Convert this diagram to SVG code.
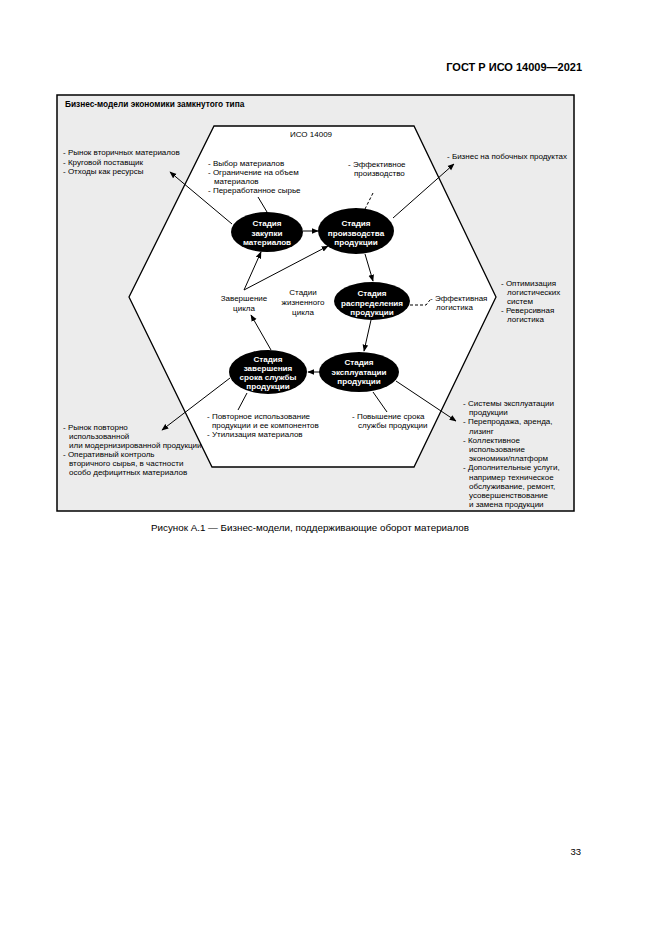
<svg xmlns="http://www.w3.org/2000/svg" width="661" height="935" viewBox="0 0 661 935">
<style>
text{font-family:"Liberation Sans",Arial,sans-serif;fill:#000}
.t{font-size:8px}
.b{font-size:8.3px;font-weight:bold}
.w{font-size:8.1px;font-weight:bold;fill:#fff;text-anchor:middle}
.c{text-anchor:middle}
.ln{stroke:#000;stroke-width:1;fill:none}
.ar{stroke:#000;stroke-width:1;fill:none;marker-end:url(#ah)}
.ds{stroke:#000;stroke-width:1;fill:none;stroke-dasharray:3 2}
.el{fill:#000}
</style>
<defs>
<marker id="ah" viewBox="0 0 10 10" refX="9" refY="5" markerWidth="7" markerHeight="7" orient="auto" markerUnits="userSpaceOnUse">
<path d="M0,1 L10,5 L0,9 Z" fill="#000"/>
</marker>
</defs>
<rect width="661" height="935" fill="#fff"/>
<text x="582" y="71" style="font-size:11px;font-weight:bold;text-anchor:end">ГОСТ Р ИСО 14009—2021</text>

<g id="frame">
<rect x="57" y="95" width="517" height="416" fill="#ececec" stroke="#000" stroke-width="1.5"/>
<text class="b" x="65" y="107">Бизнес-модели экономики замкнутого типа</text>
<polygon points="214,126 414,126 496,297 414,467 212,467 129,297" fill="#fff" stroke="#000" stroke-width="1.3"/>
<text class="t" x="290" y="137">ИСО 14009</text>
</g>

<g id="connectors">
<line class="ar" x1="303" y1="231" x2="318" y2="231"/>
<line class="ar" x1="365" y1="254" x2="373" y2="281"/>
<line class="ar" x1="371" y1="320" x2="364" y2="351"/>
<line class="ar" x1="320" y1="372" x2="308" y2="372"/>
<line class="ar" x1="271" y1="350" x2="251" y2="315"/>
<line class="ar" x1="244" y1="290" x2="261" y2="252"/>
<line class="ar" x1="244" y1="290" x2="328" y2="246"/>
<line class="ar" x1="232" y1="224" x2="170" y2="172"/>
<line class="ar" x1="393" y1="218" x2="454" y2="164"/>
<line class="ar" x1="396" y1="381" x2="456" y2="421"/>
<line class="ar" x1="230" y1="378" x2="162" y2="430"/>
<line class="ln" x1="258" y1="197" x2="267" y2="212"/>
<line class="ds" x1="373" y1="193" x2="364" y2="211"/>
<polyline class="ds" points="410,305 426,305 430,300"/>
<line class="ln" x1="373" y1="392" x2="387" y2="412"/>
<line class="ln" x1="247" y1="393" x2="238" y2="410"/>
</g>

<g id="stage-procurement">
<ellipse class="el" cx="267" cy="232" rx="36" ry="20"/>
<text class="w" x="267" y="226">Стадия</text>
<text class="w" x="267" y="235.5">закупки</text>
<text class="w" x="267" y="245">материалов</text>
</g>
<g id="stage-production">
<ellipse class="el" cx="356" cy="231" rx="38" ry="23"/>
<text class="w" x="356" y="226">Стадия</text>
<text class="w" x="356" y="235.5">производства</text>
<text class="w" x="356" y="245">продукции</text>
</g>
<g id="stage-distribution">
<ellipse class="el" cx="372" cy="301" rx="38" ry="19"/>
<text class="w" x="372" y="296">Стадия</text>
<text class="w" x="372" y="305.5">распределения</text>
<text class="w" x="372" y="315">продукции</text>
</g>
<g id="stage-use">
<ellipse class="el" cx="359" cy="372" rx="40" ry="20"/>
<text class="w" x="359" y="365">Стадия</text>
<text class="w" x="359" y="374.5">эксплуатации</text>
<text class="w" x="359" y="384">продукции</text>
</g>
<g id="stage-end-of-life">
<ellipse class="el" cx="268" cy="372" rx="39" ry="22"/>
<text class="w" x="268" y="362">Стадия</text>
<text class="w" x="268" y="371">завершения</text>
<text class="w" x="268" y="380">срока службы</text>
<text class="w" x="268" y="389">продукции</text>
</g>
<g id="cycle-completion">
<text class="t c" x="244" y="301">Завершение</text>
<text class="t c" x="244" y="311">цикла</text>
</g>
<g id="lifecycle-label">
<text class="t c" x="303" y="295">Стадии</text>
<text class="t c" x="303" y="305">жизненного</text>
<text class="t c" x="303" y="315">цикла</text>
</g>

<g id="note-left-top">
<text class="t" x="63" y="155">- Рынок вторичных материалов</text>
<text class="t" x="63" y="164.5">- Круговой поставщик</text>
<text class="t" x="63" y="174">- Отходы как ресурсы</text>
</g>
<g id="note-procurement">
<text class="t" x="208" y="166">- Выбор материалов</text>
<text class="t" x="208" y="175">- Ограничение на объем</text>
<text class="t" x="214" y="184">материалов</text>
<text class="t" x="208" y="193">- Переработанное сырье</text>
</g>
<g id="note-production">
<text class="t" x="348" y="167">- Эффективное</text>
<text class="t" x="354" y="176">производство</text>
</g>
<g id="note-right-top">
<text class="t" x="447" y="159">- Бизнес на побочных продуктах</text>
</g>
<g id="note-distribution">
<text class="t" x="430" y="301">- Эффективная</text>
<text class="t" x="436" y="310">логистика</text>
</g>
<g id="note-right-mid">
<text class="t" x="501" y="286">- Оптимизация</text>
<text class="t" x="507" y="295">логистических</text>
<text class="t" x="507" y="304">систем</text>
<text class="t" x="501" y="313">- Реверсивная</text>
<text class="t" x="507" y="322">логистика</text>
</g>
<g id="note-use">
<text class="t" x="352" y="419">- Повышение срока</text>
<text class="t" x="358" y="428">службы продукции</text>
</g>
<g id="note-right-bottom">
<text class="t" x="463" y="406">- Системы эксплуатации</text>
<text class="t" x="469" y="415.2">продукции</text>
<text class="t" x="463" y="424.4">- Перепродажа, аренда,</text>
<text class="t" x="469" y="433.6">лизинг</text>
<text class="t" x="463" y="442.8">- Коллективное</text>
<text class="t" x="469" y="452">использование</text>
<text class="t" x="469" y="461.2">экономики/платформ</text>
<text class="t" x="463" y="470.4">- Дополнительные услуги,</text>
<text class="t" x="469" y="479.6">например техническое</text>
<text class="t" x="469" y="488.8">обслуживание, ремонт,</text>
<text class="t" x="469" y="498">усовершенствование</text>
<text class="t" x="469" y="507.2">и замена продукции</text>
</g>
<g id="note-end-of-life">
<text class="t" x="207" y="419">- Повторное использование</text>
<text class="t" x="212" y="428">продукции и ее компонентов</text>
<text class="t" x="207" y="437">- Утилизация материалов</text>
</g>
<g id="note-left-bottom">
<text class="t" x="63" y="430">- Рынок повторно</text>
<text class="t" x="69" y="439">использованной</text>
<text class="t" x="69" y="448">или модернизированной продукции</text>
<text class="t" x="63" y="457">- Оперативный контроль</text>
<text class="t" x="69" y="466">вторичного сырья, в частности</text>
<text class="t" x="69" y="475">особо дефицитных материалов</text>
</g>

<text x="151" y="531" style="font-size:9.8px">Рисунок А.1 — Бизнес-модели, поддерживающие оборот материалов</text>
<text x="581" y="855" style="font-size:9.5px;text-anchor:end">33</text>
</svg>
